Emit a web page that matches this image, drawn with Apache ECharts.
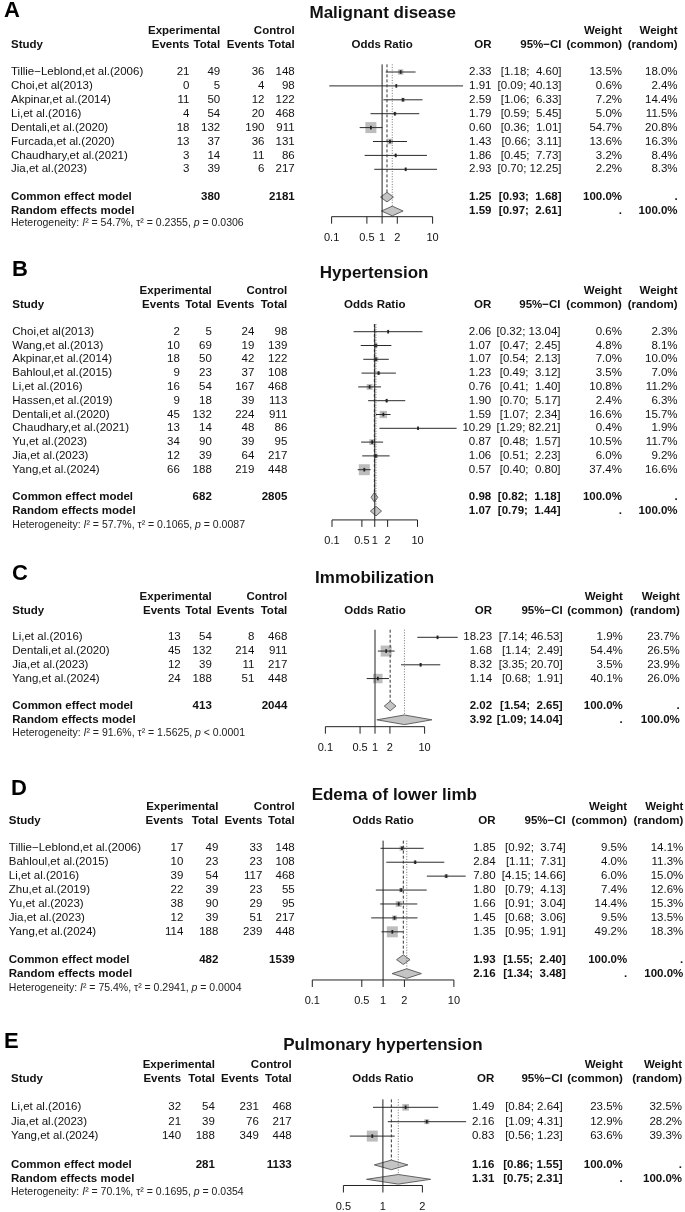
<!DOCTYPE html>
<html><head><meta charset="utf-8">
<script src="https://cdn.jsdelivr.net/npm/echarts@6/dist/echarts.min.js"></script>
<style>html,body{margin:0;padding:0;background:#fff}#c{width:685px;height:1212px}</style>
</head><body><div id="c"></div>
<script>
// ---------------- DATA ----------------
// Panel A
const A_title = 'Malignant disease';
const A_studies = ['Tillie\u2212Leblond,et al.(2006)','Choi,et al(2013)','Akpinar,et al.(2014)','Li,et al.(2016)','Dentali,et al.(2020)','Furcada,et al.(2020)','Chaudhary,et al.(2021)','Jia,et al.(2023)'];
const A_expEvents = [21,0,11,4,18,13,3,3];
const A_expTotal = [49,5,50,54,132,37,14,39];
const A_ctlEvents = [36,4,12,20,190,36,11,6];
const A_ctlTotal = [148,98,122,468,911,131,86,217];
const A_or = [2.33,1.91,2.59,1.79,0.60,1.43,1.86,2.93];
const A_lo = [1.18,0.09,1.06,0.59,0.36,0.66,0.45,0.70];
const A_hi = [4.60,40.13,6.33,5.45,1.01,3.11,7.73,12.25];
const A_wCommon = [13.5,0.6,7.2,5.0,54.7,13.6,3.2,2.2];
const A_wRandom = [18.0,2.4,14.4,11.5,20.8,16.3,8.4,8.3];
const A_common = [1.25,0.93,1.68];
const A_random = [1.59,0.97,2.61];
const A_totals = [380,2181];
const A_het = ['54.7%','0.2355','= 0.0306'];
const A_ticks = [0.1,0.5,1,2,10];

// Panel B
const B_title = 'Hypertension';
const B_studies = ['Choi,et al(2013)','Wang,et al.(2013)','Akpinar,et al.(2014)','Bahloul,et al.(2015)','Li,et al.(2016)','Hassen,et al.(2019)','Dentali,et al.(2020)','Chaudhary,et al.(2021)','Yu,et al.(2023)','Jia,et al.(2023)','Yang,et al.(2024)'];
const B_expEvents = [2,10,18,9,16,9,45,13,34,12,66];
const B_expTotal = [5,69,50,23,54,18,132,14,90,39,188];
const B_ctlEvents = [24,19,42,37,167,39,224,48,39,64,219];
const B_ctlTotal = [98,139,122,108,468,113,911,86,95,217,448];
const B_or = [2.06,1.07,1.07,1.23,0.76,1.90,1.59,10.29,0.87,1.06,0.57];
const B_lo = [0.32,0.47,0.54,0.49,0.41,0.70,1.07,1.29,0.48,0.51,0.40];
const B_hi = [13.04,2.45,2.13,3.12,1.40,5.17,2.34,82.21,1.57,2.23,0.80];
const B_wCommon = [0.6,4.8,7.0,3.5,10.8,2.4,16.6,0.4,10.5,6.0,37.4];
const B_wRandom = [2.3,8.1,10.0,7.0,11.2,6.3,15.7,1.9,11.7,9.2,16.6];
const B_common = [0.98,0.82,1.18];
const B_random = [1.07,0.79,1.44];
const B_totals = [682,2805];
const B_het = ['57.7%','0.1065','= 0.0087'];
const B_ticks = [0.1,0.5,1,2,10];

// Panel C
const C_title = 'Immobilization';
const C_studies = ['Li,et al.(2016)','Dentali,et al.(2020)','Jia,et al.(2023)','Yang,et al.(2024)'];
const C_expEvents = [13,45,12,24];
const C_expTotal = [54,132,39,188];
const C_ctlEvents = [8,214,11,51];
const C_ctlTotal = [468,911,217,448];
const C_or = [18.23,1.68,8.32,1.14];
const C_lo = [7.14,1.14,3.35,0.68];
const C_hi = [46.53,2.49,20.70,1.91];
const C_wCommon = [1.9,54.4,3.5,40.1];
const C_wRandom = [23.7,26.5,23.9,26.0];
const C_common = [2.02,1.54,2.65];
const C_random = [3.92,1.09,14.04];
const C_totals = [413,2044];
const C_het = ['91.6%','1.5625','< 0.0001'];
const C_ticks = [0.1,0.5,1,2,10];

// Panel D
const D_title = 'Edema of lower limb';
const D_studies = ['Tillie\u2212Leblond,et al.(2006)','Bahloul,et al.(2015)','Li,et al.(2016)','Zhu,et al.(2019)','Yu,et al.(2023)','Jia,et al.(2023)','Yang,et al.(2024)'];
const D_expEvents = [17,10,39,22,38,12,114];
const D_expTotal = [49,23,54,39,90,39,188];
const D_ctlEvents = [33,23,117,23,29,51,239];
const D_ctlTotal = [148,108,468,55,95,217,448];
const D_or = [1.85,2.84,7.80,1.80,1.66,1.45,1.35];
const D_lo = [0.92,1.11,4.15,0.79,0.91,0.68,0.95];
const D_hi = [3.74,7.31,14.66,4.13,3.04,3.06,1.91];
const D_wCommon = [9.5,4.0,6.0,7.4,14.4,9.5,49.2];
const D_wRandom = [14.1,11.3,15.0,12.6,15.3,13.5,18.3];
const D_common = [1.93,1.55,2.40];
const D_random = [2.16,1.34,3.48];
const D_totals = [482,1539];
const D_het = ['75.4%','0.2941','= 0.0004'];
const D_ticks = [0.1,0.5,1,2,10];

// Panel E
const E_title = 'Pulmonary hypertension';
const E_studies = ['Li,et al.(2016)','Jia,et al.(2023)','Yang,et al.(2024)'];
const E_expEvents = [32,21,140];
const E_expTotal = [54,39,188];
const E_ctlEvents = [231,76,349];
const E_ctlTotal = [468,217,448];
const E_or = [1.49,2.16,0.83];
const E_lo = [0.84,1.09,0.56];
const E_hi = [2.64,4.31,1.23];
const E_wCommon = [23.5,12.9,63.6];
const E_wRandom = [32.5,28.2,39.3];
const E_common = [1.16,0.86,1.55];
const E_random = [1.31,0.75,2.31];
const E_totals = [281,1133];
const E_het = ['70.1%','0.1695','= 0.0354'];
const E_ticks = [0.5,1,2];

// ---------------- LAYOUT ----------------
const FONT = "'Liberation Sans',Arial,Helvetica,sans-serif";
const FS = 11.5;
const YMIN = -0.55;
const layouts = {
  A:{row0:72, step:13.9, axisIdx:10.41, x0:331.6, x1:432.6, hetOff:0.86, titleX:382.7, titleY:13, letterX:4, letterY:11,
     cols:{study:11, ee:189.5, et:220.2, ce:264.5, ct:294.7, or:491.5, ci:561.5, wc:622, wr:677.6}},
  B:{row0:331.7, step:13.8, axisIdx:13.64, x0:332, x1:417.5, hetOff:1.0, titleX:374.1, titleY:273, letterX:12, letterY:270,
     cols:{study:12.3, ee:179.8, et:211.8, ce:254.4, ct:287.3, or:491.2, ci:560.5, wc:621.9, wr:677.6}},
  C:{row0:637.3, step:13.75, axisIdx:6.5, x0:325.4, x1:424.6, hetOff:1.0, titleX:374.6, titleY:578, letterX:12, letterY:574,
     cols:{study:12.3, ee:180.7, et:211.8, ce:254.4, ct:287.3, or:492.1, ci:562.7, wc:622.8, wr:679.8}},
  D:{row0:848.3, step:13.92, axisIdx:9.46, x0:312.3, x1:453.9, hetOff:1.03, titleX:394.3, titleY:795, letterX:11, letterY:789,
     cols:{study:8.8, ee:183.3, et:218.4, ce:262.3, ct:294.7, or:495.6, ci:565.8, wc:627.2, wr:683.3}},
  E:{row0:1107.3, step:14.4, axisIdx:5.43, x0:343.4, x1:422.4, hetOff:0.86, titleX:382.9, titleY:1045, letterX:4, letterY:1042,
     cols:{study:11, ee:181.1, et:214.9, ce:258.8, ct:291.7, or:494.3, ci:562.7, wc:622.8, wr:682}}
};

const panels = [
  {key:'A', title:A_title, studies:A_studies, ee:A_expEvents, et:A_expTotal, ce:A_ctlEvents, ct:A_ctlTotal, or:A_or, lo:A_lo, hi:A_hi, wc:A_wCommon, wr:A_wRandom, common:A_common, random:A_random, totals:A_totals, het:A_het, ticks:A_ticks},
  {key:'B', title:B_title, studies:B_studies, ee:B_expEvents, et:B_expTotal, ce:B_ctlEvents, ct:B_ctlTotal, or:B_or, lo:B_lo, hi:B_hi, wc:B_wCommon, wr:B_wRandom, common:B_common, random:B_random, totals:B_totals, het:B_het, ticks:B_ticks},
  {key:'C', title:C_title, studies:C_studies, ee:C_expEvents, et:C_expTotal, ce:C_ctlEvents, ct:C_ctlTotal, or:C_or, lo:C_lo, hi:C_hi, wc:C_wCommon, wr:C_wRandom, common:C_common, random:C_random, totals:C_totals, het:C_het, ticks:C_ticks},
  {key:'D', title:D_title, studies:D_studies, ee:D_expEvents, et:D_expTotal, ce:D_ctlEvents, ct:D_ctlTotal, or:D_or, lo:D_lo, hi:D_hi, wc:D_wCommon, wr:D_wRandom, common:D_common, random:D_random, totals:D_totals, het:D_het, ticks:D_ticks},
  {key:'E', title:E_title, studies:E_studies, ee:E_expEvents, et:E_expTotal, ce:E_ctlEvents, ct:E_ctlTotal, or:E_or, lo:E_lo, hi:E_hi, wc:E_wCommon, wr:E_wRandom, common:E_common, random:E_random, totals:E_totals, het:E_het, ticks:E_ticks}
];

const TXT = '#111';
const SQ_FILL = '#bdbdbd';
const LINE_C = '#2a2a2a';
const SQ_MAX = 11;
const DIAM_H = 4.8;

function pct(v){ return v.toFixed(1) + '%'; }

function makeRender(P, L) {
  const n = P.studies.length;
  const wmax = Math.max.apply(null, P.wc);
  const allHi = P.hi.concat([P.common[2], P.random[2]]).map(v => v.toFixed(2));
  const hiLen = Math.max.apply(null, allHi.map(s => s.length));
  const ciStr = (lo, hi) => { const h = hi.toFixed(2); return '[' + lo.toFixed(2) + '; ' + ' '.repeat(hiLen - h.length) + h + ']'; };
  const C = L.cols;
  return function (params, api) {
    const kind = api.value(5);
    const idx = api.value(1);
    const ch = [];
    const txt = (x, y, s, align, bold, size, color) => ch.push({
      type:'text', x:x, y:y,
      style:{text:String(s), font:(bold ? 'bold ' : '') + (size || FS) + 'px ' + FONT, fill:color || TXT,
             align:align || 'left', verticalAlign:'middle', textAlign:align || 'left', textVerticalAlign:'middle'}
    });
    const ln = (x1, y1, x2, y2, w, dash, color) => ch.push({
      type:'line', shape:{x1:x1, y1:y1, x2:x2, y2:y2},
      style:{stroke:color || LINE_C, lineWidth:w || 1, lineDash:dash || null}
    });
    const y = api.coord([1, idx])[1];
    if (kind === 0) {
      const i = params.dataIndex;
      const xo = api.coord([api.value(0), idx])[0];
      const xl = api.coord([api.value(2), idx])[0];
      const xh = api.coord([api.value(3), idx])[0];
      const s = SQ_MAX * Math.sqrt(api.value(4) / wmax);
      ch.push({type:'rect', shape:{x:xo - s/2, y:y - s/2, width:s, height:s}, style:{fill:SQ_FILL}});
      ln(xl, y, xh, y, 1);
      ln(xo, y - 1.8, xo, y + 1.8, 1.8, null, '#222');
      txt(C.study, y, P.studies[i], 'left');
      txt(C.ee, y, P.ee[i], 'right');
      txt(C.et, y, P.et[i], 'right');
      txt(C.ce, y, P.ce[i], 'right');
      txt(C.ct, y, P.ct[i], 'right');
      txt(C.or, y, P.or[i].toFixed(2), 'right');
      txt(C.ci, y, ciStr(P.lo[i], P.hi[i]), 'right');
      txt(C.wc, y, pct(P.wc[i]), 'right');
      txt(C.wr, y, pct(P.wr[i]), 'right');
    } else if (kind === 1 || kind === 2) {
      const xo = api.coord([api.value(0), idx])[0];
      const xl = api.coord([api.value(2), idx])[0];
      const xh = api.coord([api.value(3), idx])[0];
      ch.push({type:'polygon', shape:{points:[[xl, y], [xo, y - DIAM_H], [xh, y], [xo, y + DIAM_H]]},
               style:{fill:'#c4c4c4', stroke:'#555', lineWidth:0.9}});
      const est = kind === 1 ? P.common : P.random;
      if (kind === 1) {
        txt(C.study, y, 'Common effect model', 'left', true);
        txt(C.et, y, P.totals[0], 'right', true);
        txt(C.ct, y, P.totals[1], 'right', true);
        txt(C.wc, y, '100.0%', 'right', true);
        txt(C.wr, y, '.', 'right', true);
      } else {
        txt(C.study, y, 'Random effects model', 'left', true);
        txt(C.wc, y, '.', 'right', true);
        txt(C.wr, y, '100.0%', 'right', true);
      }
      txt(C.or, y, est[0].toFixed(2), 'right', true);
      txt(C.ci, y, ciStr(est[1], est[2]), 'right', true);
    } else {
      const yTop = api.coord([1, YMIN])[1];
      const yAx = api.coord([1, L.axisIdx])[1];
      const x1 = api.coord([1, 0])[0];
      const xc = api.coord([P.common[0], 0])[0];
      const xr = api.coord([P.random[0], 0])[0];
      const yc = api.coord([1, n + 1])[1] - DIAM_H;
      const yr = api.coord([1, n + 2])[1] - DIAM_H;
      ln(xc, yTop, xc, yc, 1, [3, 2], '#333');
      ln(xr, yTop, xr, yr, 0.9, [1, 1.6], '#666');
      ln(x1, yTop, x1, yAx, 1, null, '#222');
      const t = P.ticks;
      ln(api.coord([t[0], 0])[0], yAx, api.coord([t[t.length - 1], 0])[0], yAx, 1, null, '#222');
      t.forEach(v => {
        const xt = api.coord([v, 0])[0];
        ln(xt, yAx, xt, yAx + 7, 1, null, '#222');
        txt(xt, yAx + 21, String(v), 'center', false, 11);
      });
      const h1 = api.coord([1, -2.97])[1];
      const h2 = api.coord([1, -1.95])[1];
      txt(C.et, h1, 'Experimental', 'right', true);
      txt(C.ct, h1, 'Control', 'right', true);
      txt(C.wc, h1, 'Weight', 'right', true);
      txt(C.wr, h1, 'Weight', 'right', true);
      txt(C.study, h2, 'Study', 'left', true);
      txt(C.ee, h2, 'Events', 'right', true);
      txt(C.et, h2, 'Total', 'right', true);
      txt(C.ce, h2, 'Events', 'right', true);
      txt(C.ct, h2, 'Total', 'right', true);
      txt(x1, h2, 'Odds Ratio', 'center', true);
      txt(C.or, h2, 'OR', 'right', true);
      txt(C.ci, h2, '95%\u2212CI', 'right', true);
      txt(C.wc, h2, '(common)', 'right', true);
      txt(C.wr, h2, '(random)', 'right', true);
      txt(L.titleX, L.titleY, P.title, 'center', true, 17);
      txt(L.letterX, L.letterY, P.key, 'left', true, 22, '#000');
      const yh = api.coord([1, n + 2 + L.hetOff])[1];
      ch.push({type:'text', x:C.study, y:yh, style:{
        text:'{a|Heterogeneity: }{b|I}{a|\u00b2 = ' + P.het[0] + ', \u03c4\u00b2 = ' + P.het[1] + ', }{b|p}{a| ' + P.het[2] + '}',
        align:'left', verticalAlign:'middle', textAlign:'left', textVerticalAlign:'middle',
        rich:{a:{fontSize:10.5, fontFamily:FONT, fill:'#222'}, b:{fontSize:10.5, fontFamily:FONT, fontStyle:'italic', fill:'#222'}}
      }});
    }
    return {type:'group', children:ch};
  };
}

const grids = [], xAxes = [], yAxes = [], series = [];
panels.forEach((P, k) => {
  const L = layouts[P.key];
  const n = P.studies.length;
  grids.push({left:L.x0, width:L.x1 - L.x0, top:L.row0 + YMIN * L.step, height:(L.axisIdx - YMIN) * L.step,
              containLabel:false, outerBoundsMode:'none', show:false});
  xAxes.push({type:'log', logBase:10, gridIndex:k, min:P.ticks[0], max:P.ticks[P.ticks.length - 1], show:false});
  yAxes.push({type:'value', gridIndex:k, inverse:true, min:YMIN, max:L.axisIdx, show:false});
  const data = [];
  for (let i = 0; i < n; i++) data.push([P.or[i], i, P.lo[i], P.hi[i], P.wc[i], 0]);
  data.push([P.common[0], n + 1, P.common[1], P.common[2], 100, 1]);
  data.push([P.random[0], n + 2, P.random[1], P.random[2], 100, 2]);
  data.push([1, -1, 1, 1, 0, 3]);
  series.push({type:'custom', xAxisIndex:k, yAxisIndex:k, clip:false, silent:true, animation:false,
               encode:{x:0, y:1}, data:data, renderItem:makeRender(P, L)});
});

const chart = echarts.init(document.getElementById('c'), null, {renderer:'canvas', width:685, height:1212});
chart.setOption({backgroundColor:'#ffffff', animation:false, grid:grids, xAxis:xAxes, yAxis:yAxes, series:series});
</script></body></html>
